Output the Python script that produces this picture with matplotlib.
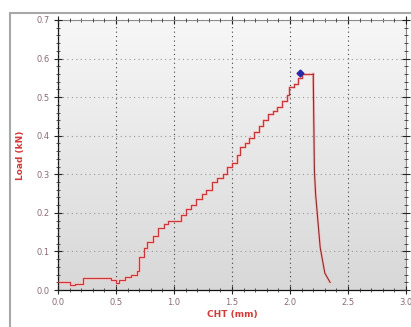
import numpy as np
import matplotlib
matplotlib.use("Agg")
import matplotlib.pyplot as plt
from matplotlib.patches import Rectangle
from matplotlib.ticker import MultipleLocator

# staircase part of the load curve (steps-post)
cht_steps = [0.00, 0.10, 0.15, 0.22, 0.46, 0.50, 0.53, 0.58, 0.63, 0.68,
             0.70, 0.74, 0.77, 0.82, 0.86, 0.91, 0.95, 1.06, 1.10, 1.15,
             1.19, 1.24, 1.28, 1.33, 1.37, 1.42, 1.46, 1.50, 1.54, 1.57,
             1.61, 1.65, 1.69, 1.73, 1.77, 1.81, 1.85, 1.89, 1.93, 1.97,
             1.99, 2.03, 2.07, 2.10, 2.20]
load_steps = [0.020, 0.012, 0.015, 0.030, 0.025, 0.018, 0.025, 0.033, 0.040, 0.050,
              0.085, 0.110, 0.125, 0.140, 0.160, 0.170, 0.180, 0.195, 0.210, 0.220,
              0.235, 0.250, 0.260, 0.280, 0.290, 0.300, 0.320, 0.330, 0.350, 0.370,
              0.380, 0.395, 0.410, 0.425, 0.440, 0.455, 0.465, 0.475, 0.490, 0.505,
              0.525, 0.535, 0.550, 0.560, 0.560]

# failure drop after the peak
cht_drop = [2.20, 2.21, 2.22, 2.26, 2.30, 2.345]
load_drop = [0.560, 0.310, 0.250, 0.110, 0.044, 0.020]

peak_cht = 2.09
peak_load = 0.562

fig = plt.figure(figsize=(4.11, 3.27), dpi=100)
fig.patch.set_facecolor("white")
ax = fig.add_axes([0.141, 0.113, 0.847, 0.826])

# gradient background of plot area
grad = np.linspace(0, 1, 256).reshape(-1, 1)
ax.imshow(grad, cmap=matplotlib.colors.LinearSegmentedColormap.from_list(
    "bg", ["#f7f7f7", "#d8d8d8"]), extent=[0, 1, 0, 1], transform=ax.transAxes,
    aspect="auto", zorder=0, origin="upper")

line_col = "#c8383a"
halo_col = "#f4c0c0"
ax.plot(cht_steps, load_steps, drawstyle="steps-post", color=halo_col, lw=2.0, zorder=2)
ax.plot(cht_drop, load_drop, color=halo_col, lw=2.0, zorder=2)
ax.plot(cht_steps, load_steps, drawstyle="steps-post", color=line_col, lw=0.8, zorder=3)
ax.plot(cht_drop, load_drop, color="#8a2a2a", lw=0.8, zorder=3)
ax.plot([peak_cht], [peak_load], marker="D", color="#2a2aa8", markersize=3.5, zorder=4)

ax.set_xlim(0, 3.0)
ax.set_ylim(0, 0.7)
ax.xaxis.set_major_locator(MultipleLocator(0.5))
ax.xaxis.set_minor_locator(MultipleLocator(0.1))
ax.yaxis.set_major_locator(MultipleLocator(0.1))
ax.yaxis.set_minor_locator(MultipleLocator(0.02))
ax.xaxis.set_major_formatter(matplotlib.ticker.FormatStrFormatter("%.1f"))
ax.yaxis.set_major_formatter(matplotlib.ticker.FormatStrFormatter("%.1f"))

ax.xaxis.grid(True, which="major", linestyle=(0, (1, 3)), color="#444444", lw=0.8)
ax.yaxis.grid(True, which="major", linestyle=(0, (1, 3)), color="#999999", lw=0.8)
ax.set_axisbelow(False)

lab_col = "#8c6a78"
ax.tick_params(which="major", direction="inout", length=6, width=0.8,
               labelsize=6, colors="#222222", labelcolor=lab_col, pad=3)
ax.tick_params(which="minor", direction="inout", length=3, width=0.6, colors="#333333")
ax.tick_params(which="both", top=True, right=True)

for side in ["left", "bottom"]:
    ax.spines[side].set_color("#111111")
    ax.spines[side].set_linewidth(0.9)
for side in ["top", "right"]:
    ax.spines[side].set_color("#888888")
    ax.spines[side].set_linewidth(0.8)

ax.set_xlabel("CHT (mm)", fontsize=6.5, color="#d23a3a", fontweight="bold", labelpad=2)
ax.set_ylabel("Load (kN)", fontsize=6.5, color="#d23a3a", fontweight="bold", labelpad=8)

# outer frame around the chart
fig.patches.append(Rectangle((10 / 411, -0.05), 1.1, 1 - 13 / 327 + 0.05,
                             transform=fig.transFigure, fill=False,
                             edgecolor="#a8a8a8", lw=1.5))

fig.savefig("out.png", dpi=100)
